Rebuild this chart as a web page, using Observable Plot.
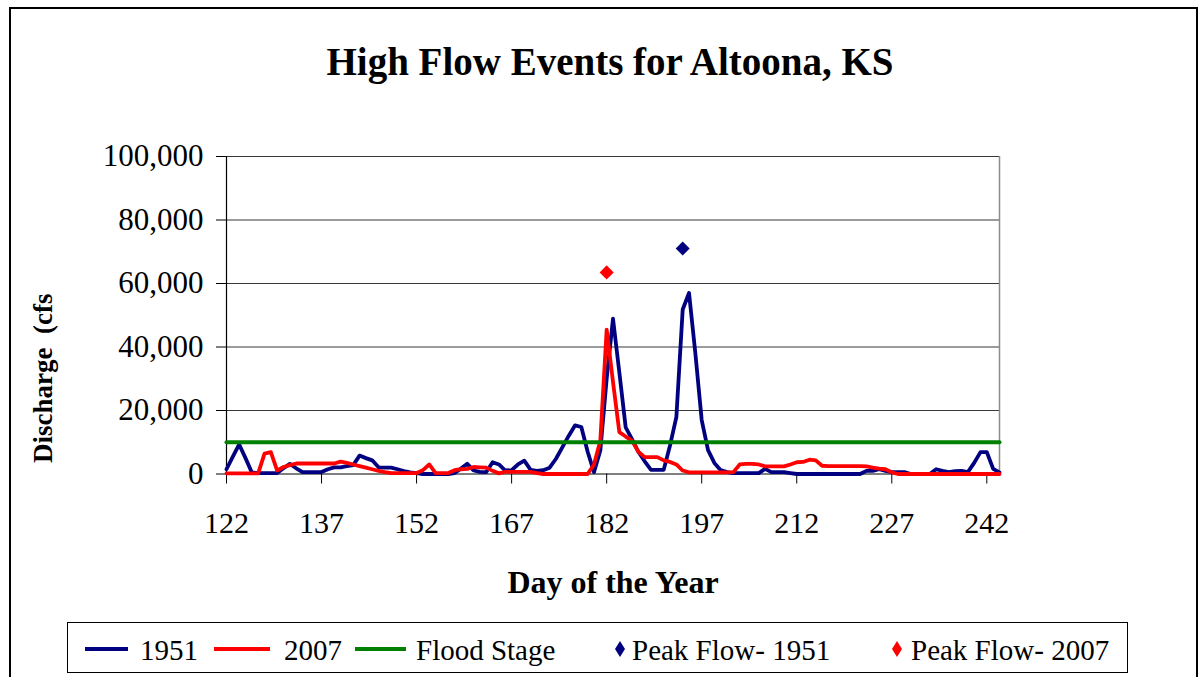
<!DOCTYPE html>
<html>
<head>
<meta charset="utf-8">
<script src="https://cdn.jsdelivr.net/npm/d3@7"></script>
<script src="https://cdn.jsdelivr.net/npm/@observablehq/plot@0.6"></script>
<style>
  body { margin: 0; background: #fff; }
  #wrap { position: relative; width: 1204px; height: 677px; overflow: hidden; background: #fff; font-family: "Liberation Serif", "Times New Roman", serif; }
  #wrap svg { position: absolute; left: 0; top: 0; }
  #overlay { pointer-events: none; }
  #overlay text { font-family: "Liberation Serif", "Times New Roman", serif; }
</style>
</head>
<body>
<div id="wrap"></div>
<script>
// ---- Data ----
const startDay = 122;
const xTicks = [122, 137, 152, 167, 182, 197, 212, 227, 242];
const yTicks = [0, 20000, 40000, 60000, 80000, 100000];

// Daily discharge, cfs, days 122..244
const flow1951 = [
  1500, 5500, 9300, 5000, 500, 300, 300, 300, 300, 1800,
  3200, 1800, 600, 600, 600, 600, 1500, 2100, 2100, 2500,
  2800, 5800, 5000, 4300, 2100, 2000, 2000, 1500, 900, 500,
  300, 0, 0, 0, 0, 0, 300, 1700, 3200, 1100,
  700, 600, 3700, 3000, 1100, 1200, 3000, 4200, 1300, 1000,
  1200, 2000, 4800, 8400, 12000, 15300, 14800, 7000, 600, 7400,
  30000, 48900, 32000, 14700, 11000, 7000, 4000, 1300, 1300, 1300,
  9000, 17900, 51800, 57000, 38000, 17000, 7500, 3500, 1200, 600,
  300, 300, 300, 300, 300, 1600, 600, 600, 600, 300,
  0, 0, 0, 0, 0, 0, 0, 0, 0, 0,
  0, 1000, 1000, 1500, 1000, 600, 600, 600, 0, 0,
  0, 0, 1500, 1000, 600, 900, 1000, 600, 3500, 6900,
  6900, 1600, 500
];
const flow2007 = [
  200, 200, 200, 200, 200, 200, 6400, 6900, 1100, 2200,
  2800, 3300, 3300, 3300, 3300, 3300, 3300, 3300, 3900, 3500,
  3000, 2500, 2000, 1500, 1000, 600, 300, 300, 300, 300,
  300, 1200, 3000, 300, 300, 300, 1200, 1500, 1600, 2200,
  2100, 2000, 1000, 200, 700, 700, 700, 700, 700, 300,
  0, 0, 0, 0, 0, 0, 0, 0, 3000, 10500,
  45500, 29000, 13200, 11800, 10500, 7000, 5300, 5300, 5300, 4300,
  3800, 3000, 1100, 500, 500, 500, 500, 500, 500, 500,
  600, 3000, 3200, 3200, 3000, 2400, 2400, 2400, 2400, 3000,
  3700, 3800, 4500, 4300, 2600, 2500, 2500, 2500, 2500, 2500,
  2500, 2400, 2000, 1700, 1500, 500, 0, 0, 0, 0,
  0, 0, 0, 0, 0, 0, 0, 0, 0, 0,
  0, 0, 0
];
const floodStage = 10000;
const peakLabels = ["Peak Flow- 1951", "Peak Flow- 2007"];
const peakDays = [194, 182];
const peakFlows = [71000, 63500];
const peakColors = ["#000080", "#FF0000"];

// ---- Tables built from the arrays ----
const table = flow1951.map((v, i) => ({
  day: startDay + i, q1951: v, q2007: flow2007[i], flood: floodStage
}));
const peaks = peakDays.map((d, i) => ({ day: d, q: peakFlows[i], color: peakColors[i] }));
const lastDay = startDay + flow1951.length - 1;

const chart = Plot.plot({
  width: 1204,
  height: 677,
  marginLeft: 226,
  marginRight: 1204 - 999,
  marginTop: 156,
  marginBottom: 677 - 473.5,
  style: { background: "transparent", fontFamily: "'Liberation Serif', 'Times New Roman', serif", color: "#000" },
  x: { type: "linear", domain: [startDay, lastDay] },
  y: { domain: [0, 100000] },
  marks: [
    Plot.gridY(yTicks.slice(1), { stroke: "#222", strokeOpacity: 0.9, strokeWidth: 1 }),
    Plot.ruleX([lastDay], { stroke: "#8c8c8c", strokeWidth: 1.5 }),
    Plot.axisX(xTicks, { tickSize: 10, tickPadding: 28, fontSize: 30, tickFormat: d => String(d), label: null, stroke: "#000" }),
    Plot.axisY(yTicks, { tickSize: 10, tickPadding: 13, fontSize: 31, tickFormat: d3.format(","), label: null, stroke: "#000" }),
    Plot.ruleY([0], { stroke: "#000", strokeWidth: 1.2 }),
    Plot.ruleX([startDay], { stroke: "#000", strokeWidth: 1.2 }),
    Plot.lineY(table, { x: "day", y: "q1951", stroke: "#000080", strokeWidth: 3.8 }),
    Plot.lineY(table, { x: "day", y: "q2007", stroke: "#FF0000", strokeWidth: 3.8 }),
    Plot.lineY(table, { x: "day", y: "flood", stroke: "#008000", strokeWidth: 4 }),
    Plot.dot(peaks, { x: "day", y: "q", symbol: "square", r: 5.6, rotate: 45, fill: "color", stroke: null })
  ]
});

const wrap = document.getElementById("wrap");
wrap.appendChild(chart);

// ---- Overlay: frame, title, axis titles, legend ----
const ov = d3.select(wrap).append("svg").attr("id", "overlay")
  .attr("width", 1204).attr("height", 677);

ov.append("rect").attr("x", 10).attr("y", 8).attr("width", 1187).attr("height", 700)
  .attr("fill", "none").attr("stroke", "#000").attr("stroke-width", 2);

ov.append("text").attr("x", 610).attr("y", 75).attr("text-anchor", "middle")
  .attr("font-size", 39).attr("font-weight", "bold").text("High Flow Events for Altoona, KS");

ov.append("text").attr("x", 613).attr("y", 593).attr("text-anchor", "middle")
  .attr("font-size", 32).attr("font-weight", "bold").text("Day of the Year");

ov.append("text").attr("transform", "translate(52,463) rotate(-90)").attr("text-anchor", "start")
  .attr("font-size", 27).attr("font-weight", "bold").style("white-space", "pre").text("Discharge  (cfs");

// Legend
const lg = ov.append("g");
lg.append("rect").attr("x", 67.5).attr("y", 622.5).attr("width", 1060).attr("height", 50)
  .attr("fill", "#fff").attr("stroke", "#000").attr("stroke-width", 1);
const legendLines = [
  { x1: 85, x2: 128, color: "#000080", w: 4, label: "1951", tx: 140 },
  { x1: 214, x2: 270, color: "#FF0000", w: 4, label: "2007", tx: 284 },
  { x1: 355, x2: 406, color: "#008000", w: 4, label: "Flood Stage", tx: 416 }
];
legendLines.forEach(d => {
  lg.append("line").attr("x1", d.x1).attr("x2", d.x2).attr("y1", 649).attr("y2", 649)
    .attr("stroke", d.color).attr("stroke-width", d.w);
  lg.append("text").attr("x", d.tx).attr("y", 660).attr("font-size", 29).text(d.label);
});
const legendPeaks = [
  { cx: 620, color: peakColors[0], label: peakLabels[0], tx: 632 },
  { cx: 897, color: peakColors[1], label: peakLabels[1], tx: 911 }
];
legendPeaks.forEach(d => {
  lg.append("path").attr("d", `M${d.cx},641 L${d.cx + 5},649 L${d.cx},657 L${d.cx - 5},649 Z`).attr("fill", d.color);
  lg.append("text").attr("x", d.tx).attr("y", 660).attr("font-size", 29).text(d.label);
});
</script>
</body>
</html>
